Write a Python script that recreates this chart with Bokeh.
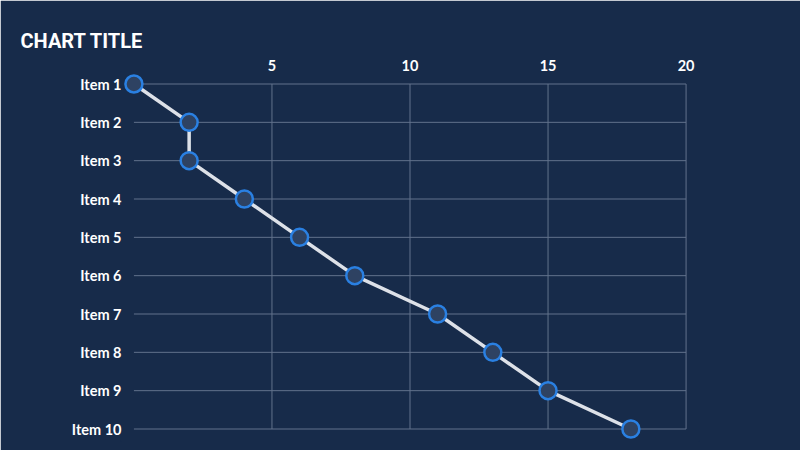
from bokeh.plotting import figure
from bokeh.models import Range1d, FixedTicker, ColumnDataSource
from bokeh.embed import file_html
from bokeh.resources import INLINE

categories = ["Item 1", "Item 2", "Item 3", "Item 4", "Item 5",
              "Item 6", "Item 7", "Item 8", "Item 9", "Item 10"]
values = [0, 2, 2, 4, 6, 8, 11, 13, 15, 18]
x_ticks = [5, 10, 15, 20]
x_min, x_max = 0, 20

BG = "#172b4a"
GRID = "#62728c"

positions = list(range(1, len(categories) + 1))
src = ColumnDataSource(dict(x=values, y=positions, cat=categories))

p = figure(width=800, height=450, output_backend="svg", toolbar_location=None,
           x_range=Range1d(x_min - 0.45, x_max + 0.45),
           y_range=Range1d(len(categories) + 0.3, 0.7),
           x_axis_location="above",
           min_border_left=121, min_border_right=102, min_border_top=72, min_border_bottom=10)
p.background_fill_color = BG
p.border_fill_color = BG
p.outline_line_color = BG
p.outline_line_width = 3
p.xgrid.visible = False
p.ygrid.visible = False

p.title.text = "CHART TITLE"
p.title.text_color = "white"
p.title.text_font = "Roboto"
p.title.text_font_style = "bold"
p.title.text_font_size = "20px"
p.title.offset = -101
p.title.standoff = 8

# axes
xa = p.xaxis[0]
xa.ticker = FixedTicker(ticks=x_ticks)
ya = p.yaxis[0]
ya.ticker = FixedTicker(ticks=positions)
ya.major_label_overrides = {pos: c for pos, c in zip(positions, categories)}
for ax in (xa, ya):
    ax.axis_line_color = None
    ax.major_tick_line_color = None
    ax.minor_tick_line_color = None
    ax.major_tick_in = 0
    ax.major_tick_out = 0
    ax.major_label_text_color = "white"
    ax.major_label_text_font = "Lato"
    ax.major_label_text_font_style = "bold"
    ax.major_label_text_font_size = "14.5px"
xa.major_label_standoff = 2
ya.major_label_standoff = 0

# grid drawn from the data extents
p.segment(x0=x_ticks, y0=[positions[0]] * len(x_ticks),
          x1=x_ticks, y1=[positions[-1]] * len(x_ticks),
          line_color=GRID, line_width=1)
p.segment(x0=[x_min] * len(positions), y0=positions,
          x1=[x_max] * len(positions), y1=positions,
          line_color=GRID, line_width=1)

p.line("x", "y", source=src, line_color="#dde1e8", line_width=3.5)
p.scatter("x", "y", source=src, size=17, fill_color="#2e4262",
          line_color="#2a80e2", line_width=2.5)

open("out.html", "w").write(file_html(p, INLINE))
